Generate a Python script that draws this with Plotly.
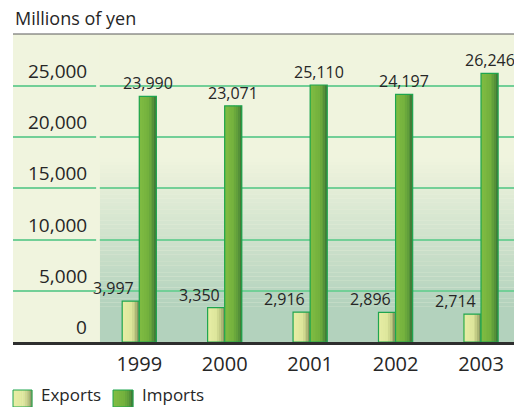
import plotly.graph_objects as go

# Trade with Japan, millions of yen
years = ["1999", "2000", "2001", "2002", "2003"]
exports = [3997, 3350, 2916, 2896, 2714]
imports = [23990, 23071, 25110, 24197, 26246]
y_ticks = [0, 5000, 10000, 15000, 20000, 25000]

FONT = "Open Sans"
TEXT = "#262626"
CREAM = "#f0f4de"
SHADE = "#b3d2bd"
BORDER = "#1ea54f"

X_RANGE = [-1.478, 4.386]
Y_RANGE = [0, 30090]
BAR_W = 0.2
SLICES = 10

EXPORT_STOPS = [(0.0, "#e8eea6"), (0.55, "#dde69b"), (0.8, "#bcc67f"), (1.0, "#7c8a58")]
IMPORT_STOPS = [(0.0, "#82bd43"), (0.55, "#73b13d"), (0.8, "#5d9b3a"), (1.0, "#3c7236")]


def hex_rgb(h):
    h = h.lstrip("#")
    return tuple(int(h[i:i + 2], 16) for i in (0, 2, 4))


def mix(c0, c1, t):
    a, b = hex_rgb(c0), hex_rgb(c1)
    return "rgb({},{},{})".format(*[round(a[i] + (b[i] - a[i]) * t) for i in range(3)])


def ramp(stops, t):
    for (p0, c0), (p1, c1) in zip(stops, stops[1:]):
        if t <= p1:
            return mix(c0, c1, (t - p0) / (p1 - p0))
    return stops[-1][1]


xs = list(range(len(years)))
fig = go.Figure()


def add_series(values, start, stops):
    # horizontal shading: narrow slices laid side by side across each bar
    step = BAR_W / SLICES
    for k in range(SLICES):
        fig.add_trace(go.Bar(
            x=xs, y=values, width=step * 1.02, offset=start + k * step,
            marker=dict(color=ramp(stops, (k + 0.5) / SLICES), line=dict(width=0)),
            showlegend=False, hoverinfo="skip",
        ))
    # outline drawn on top
    fig.add_trace(go.Bar(
        x=xs, y=values, width=BAR_W, offset=start,
        marker=dict(color="rgba(0,0,0,0)", line=dict(color=BORDER, width=1.2)),
        showlegend=False, hoverinfo="skip",
    ))


add_series(exports, -BAR_W, EXPORT_STOPS)
add_series(imports, 0.0, IMPORT_STOPS)

shapes = []
# shaded backdrop behind the bars, fading from cream to green toward the baseline
g_top, g_bot, n = 18000, 3500, 40
for k in range(n):
    y1 = g_top - (g_top - g_bot) * k / n
    y0 = g_top - (g_top - g_bot) * (k + 1) / n
    shapes.append(dict(type="rect", xref="x", yref="y", x0=-0.462, x1=X_RANGE[1],
                       y0=y0, y1=y1 + 5, fillcolor=mix(CREAM, SHADE, (k + 0.5) / n),
                       line=dict(width=0), layer="below"))
shapes.append(dict(type="rect", xref="x", yref="y", x0=-0.462, x1=X_RANGE[1],
                   y0=0, y1=g_bot, fillcolor=SHADE, line=dict(width=0), layer="below"))
# break in the gridlines between the scale and the bars
shapes.append(dict(type="rect", xref="x", yref="y", x0=-0.505, x1=-0.462,
                   y0=Y_RANGE[0], y1=Y_RANGE[1], fillcolor=CREAM,
                   line=dict(width=0), layer="between"))
# rule along the top of the panel
shapes.append(dict(type="line", xref="paper", yref="paper", x0=0, x1=1, y0=1, y1=1,
                   line=dict(color="#5a5a5a", width=1.2)))

annotations = []
# value scale, set above each gridline
for v in y_ticks:
    annotations.append(dict(x=-0.585, y=v, xref="x", yref="y", text=f"{v:,}",
                            xanchor="right", yanchor="bottom", yshift=0, showarrow=False,
                            font=dict(family=FONT, size=19, color=TEXT)))
# value labels
for i, v in enumerate(exports):
    annotations.append(dict(x=i, y=v, xref="x", yref="y", text=f"{v:,}",
                            xanchor="right", yanchor="bottom", xshift=-3, yshift=0,
                            showarrow=False, font=dict(family=FONT, size=16, color=TEXT)))
for i, v in enumerate(imports):
    annotations.append(dict(x=i + BAR_W / 2, y=v, xref="x", yref="y", text=f"{v:,}",
                            xanchor="center", yanchor="bottom", yshift=0,
                            showarrow=False, font=dict(family=FONT, size=16, color=TEXT)))
# axis caption
annotations.append(dict(x=0, y=1, xref="paper", yref="paper", text="Millions of yen",
                        xanchor="left", yanchor="bottom", yshift=2, showarrow=False,
                        font=dict(family=FONT, size=18, color=TEXT)))

# legend swatches with the same shading as the bars
PLOT_W, PLOT_H, PLOT_L, PLOT_B = 501, 308, 13, 342


def px_x(px):
    return (px - PLOT_L) / PLOT_W


def px_y(py):
    return (PLOT_B - py) / PLOT_H


for (left, right, label, stops) in [(13, 32, "Exports", EXPORT_STOPS),
                                    (113, 133, "Imports", IMPORT_STOPS)]:
    m = 10
    for k in range(m):
        a = left + (right - left) * k / m
        b = left + (right - left) * (k + 1) / m
        shapes.append(dict(type="rect", xref="paper", yref="paper",
                           x0=px_x(a), x1=px_x(b + 0.3), y0=px_y(407), y1=px_y(390),
                           fillcolor=ramp(stops, (k + 0.5) / m), line=dict(width=0)))
    shapes.append(dict(type="rect", xref="paper", yref="paper",
                       x0=px_x(left), x1=px_x(right), y0=px_y(407), y1=px_y(390),
                       line=dict(color=BORDER, width=1)))
    annotations.append(dict(x=px_x(right + 8), y=px_y(407), xref="paper", yref="paper",
                            text=label, xanchor="left", yanchor="bottom", showarrow=False,
                            borderpad=0, font=dict(family=FONT, size=17, color=TEXT)))

fig.update_layout(
    width=514, height=407,
    margin=dict(l=PLOT_L, r=0, t=34, b=65),
    paper_bgcolor="white", plot_bgcolor=CREAM,
    barmode="overlay", showlegend=False,
    shapes=shapes, annotations=annotations,
    xaxis=dict(range=X_RANGE, tickmode="array", tickvals=xs, ticktext=years,
               showgrid=False, zeroline=False, showline=True, linecolor="#2e2e2e",
               linewidth=2.5, ticks="", ticklabelstandoff=2,
               tickfont=dict(family=FONT, size=20, color=TEXT), fixedrange=True),
    yaxis=dict(range=Y_RANGE, tickmode="array", tickvals=y_ticks, showticklabels=False,
               showgrid=True, gridcolor="#72cf97", gridwidth=2, zeroline=False,
               showline=False, fixedrange=True),
)

fig.write_html("out.html")
